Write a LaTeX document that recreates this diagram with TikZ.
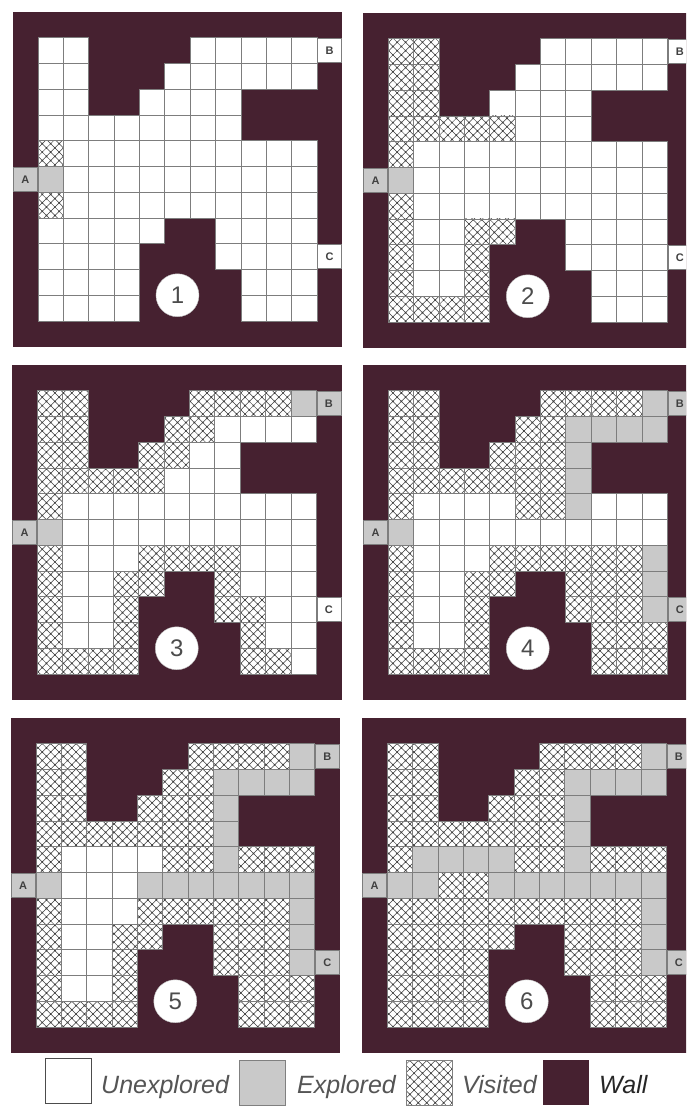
\documentclass[tikz,border=0pt]{standalone}
\usepackage{fontspec}
\setmainfont{Liberation Sans}
\usetikzlibrary{patterns}
\definecolor{wallc}{RGB}{70,33,48}
\definecolor{explc}{RGB}{201,201,201}
\definecolor{gridc}{RGB}{125,125,125}
\definecolor{hatchc}{RGB}{60,60,60}
\definecolor{textc}{RGB}{85,85,85}

\pgfdeclarepatternformonly{diamondhatch}{\pgfqpoint{-1pt}{-1pt}}{\pgfqpoint{9.45pt}{9.45pt}}{\pgfqpoint{8.45pt}{8.45pt}}{%
  \pgfsetlinewidth{0.5pt}
  \pgfpathmoveto{\pgfqpoint{0pt}{0pt}}\pgfpathlineto{\pgfqpoint{8.45pt}{8.45pt}}
  \pgfpathmoveto{\pgfqpoint{0pt}{8.45pt}}\pgfpathlineto{\pgfqpoint{8.45pt}{0pt}}
  \pgfusepath{stroke}
  \pgfpathcircle{\pgfqpoint{0pt}{0pt}}{0.95pt}
  \pgfpathcircle{\pgfqpoint{4.225pt}{4.225pt}}{0.95pt}
  \pgfusepath{fill}}

\def\cw{25.35}
\def\ch{25.75}

% one maze snapshot: origin, number, B state, C state, rows
\newcommand\mazepanel[5]{%
  \begin{scope}[shift={#1}]
    \fill[wallc] (0,0) rectangle ({13*\cw},{13*\ch});
    \foreach \ri/\rowcells in {#5}{
      \foreach \kk [count=\ci] in \rowcells
        \path[cell \kk] ({\ci*\cw},{(\ri+1)*\ch}) rectangle ++(\cw,\ch);
    }
    \node[lab,lab e] (A#2) at ({0.5*\cw},{6.5*\ch}) {A};
    \node[lab,lab #3] (B#2) at ({12.5*\cw},{1.5*\ch}) {B};
    \node[lab,lab #4] (C#2) at ({12.5*\cw},{9.5*\ch}) {C};
    \node[numdisc] (n#2) at ({6.5*\cw},{11*\ch}) {#2};
  \end{scope}}

\begin{document}
\begin{tikzpicture}[x=1pt,y=-1pt,
    cell u/.style={fill=white,draw=gridc,line width=0.7pt},
    cell e/.style={fill=explc,draw=gridc,line width=0.7pt},
    cell v/.style={preaction={fill=white},pattern=diamondhatch,pattern color=hatchc,draw=gridc,line width=0.7pt},
    cell w/.style={},
    lab/.style={minimum width=24pt,minimum height=24pt,inner sep=0pt,draw=gridc,
      font=\bfseries\fontsize{11}{11}\selectfont,text=black!75},
    lab u/.style={fill=white},
    lab e/.style={fill=explc},
    numdisc/.style={circle,fill=white,draw=gray!50,minimum size=43pt,inner sep=0pt,
      font=\fontsize{24}{24}\selectfont,text=black!70},
    legbox/.style={minimum width=46pt,minimum height=45pt,inner sep=0pt},
    legtext/.style={anchor=base west,inner sep=0pt,text=textc,
      font=\itshape\fontsize{25}{25}\selectfont}]
  \useasboundingbox (0,0) rectangle (686,1107);
  \clip (0,0) rectangle (686,1107);
  \fill[white] (0,0) rectangle (686,1107);

  \mazepanel{(12.7,12)}{1}{u}{u}{
    0/{u,u,w,w,w,w,u,u,u,u,u},1/{u,u,w,w,w,u,u,u,u,u,u},
    2/{u,u,w,w,u,u,u,u,w,w,w},3/{u,u,u,u,u,u,u,u,w,w,w},
    4/{v,u,u,u,u,u,u,u,u,u,u},5/{e,u,u,u,u,u,u,u,u,u,u},
    6/{v,u,u,u,u,u,u,u,u,u,u},7/{u,u,u,u,u,w,w,u,u,u,u},
    8/{u,u,u,u,w,w,w,u,u,u,u},9/{u,u,u,u,w,w,w,w,u,u,u},
    10/{u,u,u,u,w,w,w,w,u,u,u}}
  \mazepanel{(363,13)}{2}{u}{u}{
    0/{v,v,w,w,w,w,u,u,u,u,u},1/{v,v,w,w,w,u,u,u,u,u,u},
    2/{v,v,w,w,u,u,u,u,w,w,w},3/{v,v,v,v,v,u,u,u,w,w,w},
    4/{v,u,u,u,u,u,u,u,u,u,u},5/{e,u,u,u,u,u,u,u,u,u,u},
    6/{v,u,u,u,u,u,u,u,u,u,u},7/{v,u,u,v,v,w,w,u,u,u,u},
    8/{v,u,u,v,w,w,w,u,u,u,u},9/{v,u,u,v,w,w,w,w,u,u,u},
    10/{v,v,v,v,w,w,w,w,u,u,u}}
  \mazepanel{(12,365)}{3}{e}{u}{
    0/{v,v,w,w,w,w,v,v,v,v,e},1/{v,v,w,w,w,v,v,u,u,u,u},
    2/{v,v,w,w,v,v,u,u,w,w,w},3/{v,v,v,v,v,u,u,u,w,w,w},
    4/{v,u,u,u,u,u,u,u,u,u,u},5/{e,u,u,u,u,u,u,u,u,u,u},
    6/{v,u,u,u,v,v,v,v,u,u,u},7/{v,u,u,v,v,w,w,v,u,u,u},
    8/{v,u,u,v,w,w,w,v,v,u,u},9/{v,u,u,v,w,w,w,w,v,u,u},
    10/{v,v,v,v,w,w,w,w,v,v,u}}
  \mazepanel{(363,365)}{4}{e}{e}{
    0/{v,v,w,w,w,w,v,v,v,v,e},1/{v,v,w,w,w,v,v,e,e,e,e},
    2/{v,v,w,w,v,v,v,e,w,w,w},3/{v,v,v,v,v,v,v,e,w,w,w},
    4/{v,u,u,u,u,v,v,e,u,u,u},5/{e,u,u,u,u,u,u,u,u,u,u},
    6/{v,u,u,u,v,v,v,v,v,v,e},7/{v,u,u,v,v,w,w,v,v,v,e},
    8/{v,u,u,v,w,w,w,v,v,v,e},9/{v,u,u,v,w,w,w,w,v,v,v},
    10/{v,v,v,v,w,w,w,w,v,v,v}}
  \mazepanel{(10.5,718)}{5}{e}{e}{
    0/{v,v,w,w,w,w,v,v,v,v,e},1/{v,v,w,w,w,v,v,e,e,e,e},
    2/{v,v,w,w,v,v,v,e,w,w,w},3/{v,v,v,v,v,v,v,e,w,w,w},
    4/{v,u,u,u,u,v,v,e,v,v,v},5/{e,u,u,u,e,e,e,e,e,e,e},
    6/{v,u,u,u,v,v,v,v,v,v,e},7/{v,u,u,v,v,w,w,v,v,v,e},
    8/{v,u,u,v,w,w,w,v,v,v,e},9/{v,u,u,v,w,w,w,w,v,v,v},
    10/{v,v,v,v,w,w,w,w,v,v,v}}
  \mazepanel{(362,718)}{6}{e}{e}{
    0/{v,v,w,w,w,w,v,v,v,v,e},1/{v,v,w,w,w,v,v,e,e,e,e},
    2/{v,v,w,w,v,v,v,e,w,w,w},3/{v,v,v,v,v,v,v,e,w,w,w},
    4/{v,e,e,e,e,v,v,e,v,v,v},5/{e,e,v,v,e,e,e,e,e,e,e},
    6/{v,v,v,v,v,v,v,v,v,v,e},7/{v,v,v,v,v,w,w,v,v,v,e},
    8/{v,v,v,v,w,w,w,v,v,v,e},9/{v,v,v,v,w,w,w,w,v,v,v},
    10/{v,v,v,v,w,w,w,w,v,v,v}}

  % legend
  \node[legbox,fill=white,draw=black!70,line width=0.8pt] (boxU) at (68,1081) {};
  \node[legtext] (txtU) at (101,1093) {Unexplored};
  \node[legbox,fill=explc,draw=gray,line width=0.8pt] (boxE) at (262.5,1082.5) {};
  \node[legtext] (txtE) at (297,1093) {Explored};
  \node[legbox,preaction={fill=white},pattern=diamondhatch,pattern color=hatchc,
    draw=gray,line width=0.8pt] (boxV) at (429,1082.5) {};
  \node[legtext] (txtV) at (462,1093) {Visited};
  \node[legbox,fill=wallc] (boxW) at (566,1082.5) {};
  \node[legtext,text=black!85] (txtW) at (599,1093) {Wall};
\end{tikzpicture}
\end{document}
